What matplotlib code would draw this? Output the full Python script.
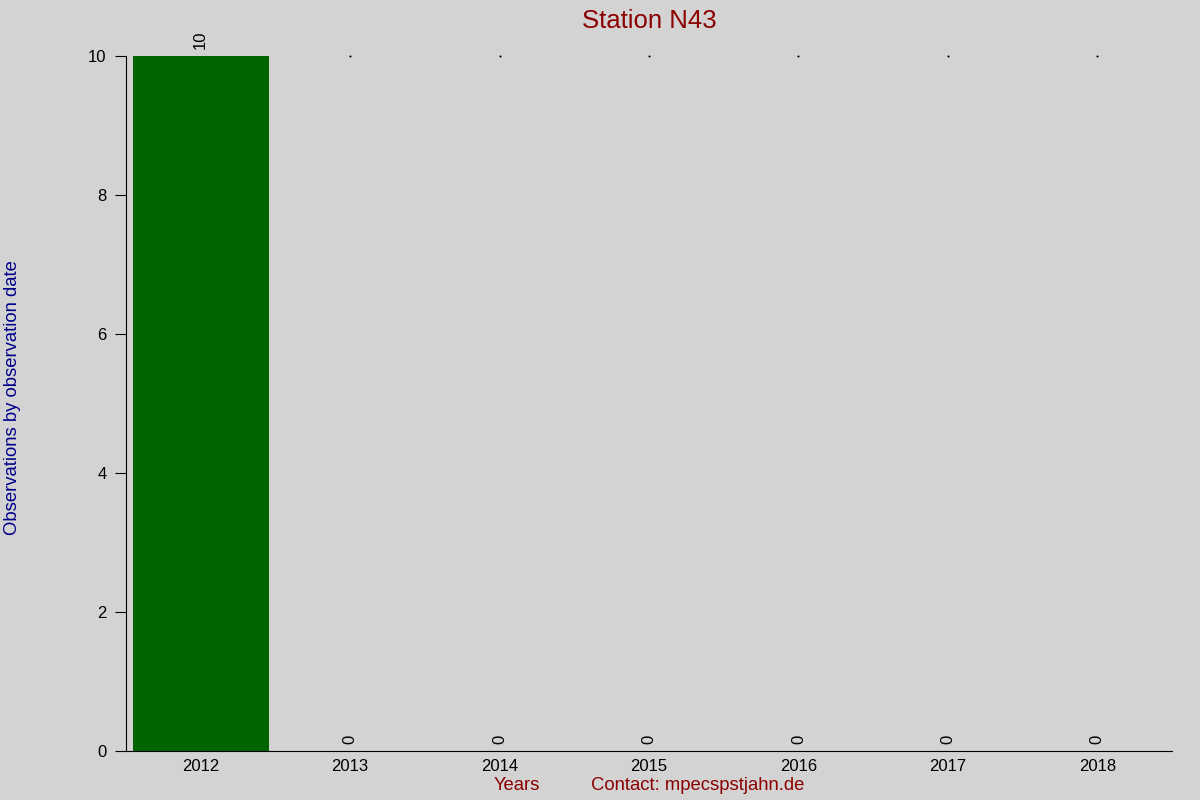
import matplotlib
matplotlib.use("Agg")
import matplotlib.pyplot as plt

years = ["2012", "2013", "2014", "2015", "2016", "2017", "2018"]
counts = [10, 0, 0, 0, 0, 0, 0]

bg = "#d3d3d3"
plt.rcParams["font.family"] = ["Liberation Sans", "DejaVu Sans"]

fig = plt.figure(figsize=(12, 8), dpi=100, facecolor=bg)
ax = fig.add_axes([0.105, 0.06125, 0.8717, 0.86875], facecolor=bg)

pos = list(range(len(years)))
ax.bar(pos, counts, width=0.91, color="#006400")
for x, v in zip(pos, counts):
    ax.text(x, v + 0.1, str(v), rotation=90, ha="center", va="bottom", fontsize=12)
    if v == 0:
        ax.plot(x, 10, marker="s", markersize=0.5, color="black", clip_on=False)

ax.set_xlim(-0.5, 6.5)
ax.set_ylim(0, 10)
ax.set_xticks(pos)
ax.set_xticklabels(years, fontsize=12)
ax.set_yticks([0, 2, 4, 6, 8, 10])
ax.tick_params(axis="y", labelsize=12, length=8, direction="out", pad=6)
ax.tick_params(axis="x", length=0, pad=6)
ax.spines["top"].set_visible(False)
ax.spines["right"].set_visible(False)

fig.text(0.5408, 0.974, "Station N43", ha="center", va="center", fontsize=18.5, color="#8b0000")
fig.text(0.0105, 0.503, "Observations by observation date", rotation=90, ha="center", va="center",
         fontsize=13.3, color="#00008b")
fig.text(0.431, 0.0175, "Years", ha="center", va="center", fontsize=13.3, color="#8b0000")
fig.text(0.581, 0.0175, "Contact: mpecspstjahn.de", ha="center", va="center", fontsize=13.3, color="#8b0000")

fig.savefig("out.png", dpi=100, facecolor=bg)
